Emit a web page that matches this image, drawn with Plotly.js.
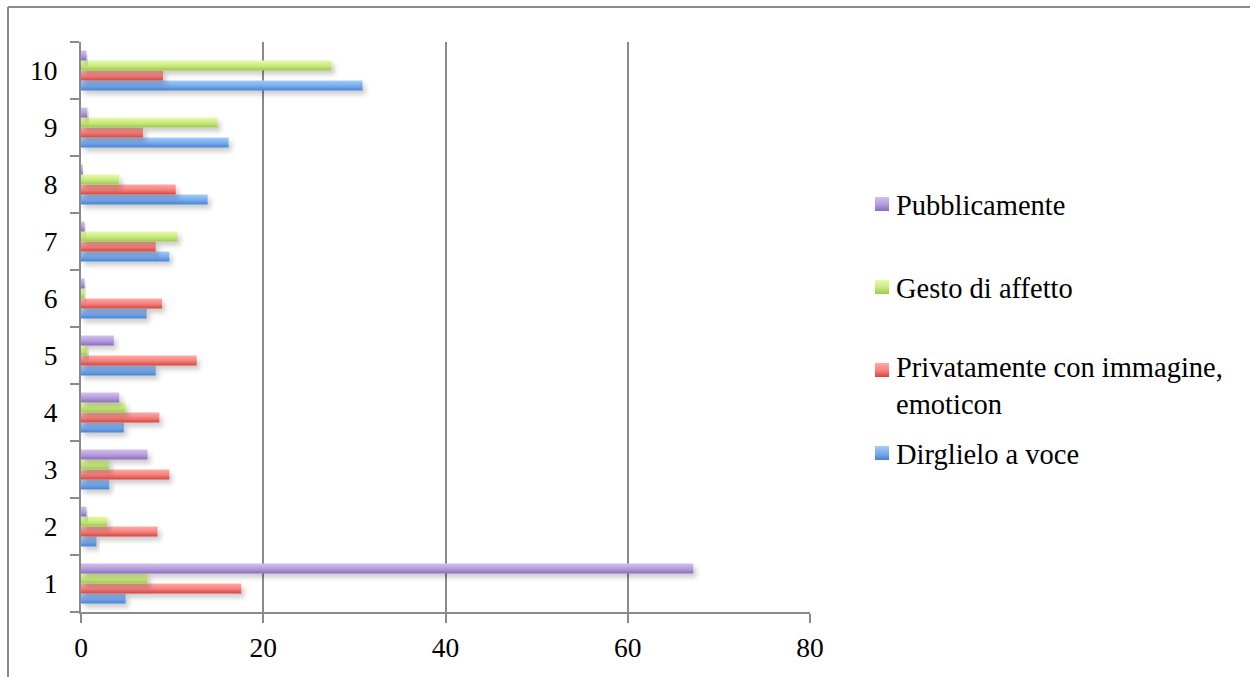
<!DOCTYPE html>
<html>
<head>
<meta charset="utf-8">
<script src="https://cdn.plot.ly/plotly-3.0.1.min.js"></script>
<style>
  html, body { margin: 0; padding: 0; background: #ffffff; }
  #chart { width: 1250px; height: 677px; }
</style>
</head>
<body>
<div id="chart"></div>
<script>
// Ratings 1..10 and the share (%) of answers for each way of expressing it
const categories = ['1', '2', '3', '4', '5', '6', '7', '8', '9', '10'];
const dirglieloAVoce = [4.9, 1.7, 3.1, 4.7, 8.2, 7.2, 9.7, 13.9, 16.2, 30.9];
const privatamente = [17.6, 8.4, 9.7, 8.6, 12.7, 8.9, 8.2, 10.4, 6.8, 9.0];
const gestoDiAffetto = [7.3, 2.9, 3.1, 4.9, 0.7, 0.4, 10.6, 4.2, 15.0, 27.5];
const pubblicamente = [67.2, 0.6, 7.3, 4.2, 3.6, 0.4, 0.4, 0.2, 0.7, 0.6];

const seriesNames = ['Dirglielo a voce', 'Privatamente con immagine,<br>emoticon', 'Gesto di affetto', 'Pubblicamente'];
const seriesValues = [dirglieloAVoce, privatamente, gestoDiAffetto, pubblicamente];
const xTicks = [0, 20, 40, 60, 80];

// top / middle / bottom shades for each series
const shades = [
  ['#a6cbfa', '#78aaec', '#4683d2'],
  ['#ffaaa6', '#f5807b', '#d4443f'],
  ['#e6fbab', '#c8e97e', '#9fc94c'],
  ['#d4c0ee', '#b39bda', '#8a6cbb']
];

const FONT = 'Liberation Serif, Times New Roman, serif';
const GREY = '#8a8a8a';

const traces = seriesValues.map((vals, i) => ({
  type: 'bar',
  orientation: 'h',
  name: seriesNames[i],
  x: vals,
  y: categories,
  marker: { color: shades[i][1] },
  showlegend: false,
  hoverinfo: 'x+name'
}));

// Plot-area geometry in pixels
const W = 1250, H = 677;
const M = { l: 81, r: 440, t: 42, b: 65 };
const pw = W - M.l - M.r, ph = H - M.t - M.b;
const px = x => (x - M.l) / pw;
const py = y => (H - M.b - y) / ph;

const shapes = [
  { type: 'line', xref: 'paper', yref: 'paper', x0: px(8), x1: px(W + 5), y0: py(7), y1: py(7),
    line: { color: GREY, width: 2 } },
  { type: 'line', xref: 'paper', yref: 'paper', x0: px(8), x1: px(8), y0: py(7), y1: py(H + 5),
    line: { color: GREY, width: 2 } }
];
const annotations = [];

// Legend, top entry = last series
const legendRows = [
  { idx: 3, cy: 204, ty: 205 },
  { idx: 2, cy: 287, ty: 288 },
  { idx: 1, cy: 370, ty: 386 },
  { idx: 0, cy: 453, ty: 454 }
];
legendRows.forEach(r => {
  shapes.push({
    type: 'rect', xref: 'paper', yref: 'paper',
    x0: px(875), x1: px(889), y0: py(r.cy - 7), y1: py(r.cy + 7),
    fillcolor: shades[r.idx][1], line: { width: 0 }
  });
  annotations.push({
    xref: 'paper', yref: 'paper', x: px(894), y: py(r.ty),
    xanchor: 'left', yanchor: 'middle', align: 'left',
    text: seriesNames[r.idx], showarrow: false,
    font: { family: FONT, size: 28.5, color: '#000' }
  });
});

const layout = {
  width: W, height: H,
  margin: M,
  paper_bgcolor: '#ffffff',
  plot_bgcolor: '#ffffff',
  barmode: 'group',
  bargap: 0.3,
  bargroupgap: 0,
  showlegend: false,
  font: { family: FONT, size: 27, color: '#000' },
  xaxis: {
    range: [0, 80],
    tickvals: xTicks,
    ticktext: xTicks.map(String),
    showgrid: true, gridcolor: GREY, gridwidth: 2,
    zeroline: false,
    showline: true, linecolor: GREY, linewidth: 2,
    ticks: 'outside', ticklen: 9, tickwidth: 2, tickcolor: GREY,
    ticklabelstandoff: 1,
    tickfont: { family: FONT, size: 27.5, color: '#000' },
    fixedrange: true
  },
  yaxis: {
    type: 'category',
    categoryorder: 'array',
    categoryarray: categories,
    range: [-0.5, 9.5],
    tickson: 'boundaries',
    showgrid: false, zeroline: false,
    showline: true, linecolor: GREY, linewidth: 2,
    ticks: 'outside', ticklen: 9, tickwidth: 2, tickcolor: GREY,
    ticklabelstandoff: 16,
    tickfont: { family: FONT, size: 27.5, color: '#000' },
    fixedrange: true
  },
  shapes: shapes,
  annotations: annotations
};

const gd = document.getElementById('chart');
Plotly.newPlot(gd, traces, layout, { displayModeBar: false, staticPlot: true }).then(() => {
  // vertical shading and a soft shadow on the bars
  const svg = gd.querySelector('.main-svg');
  const NS = 'http://www.w3.org/2000/svg';
  let defs = svg.querySelector('defs');
  if (!defs) { defs = document.createElementNS(NS, 'defs'); svg.insertBefore(defs, svg.firstChild); }
  shades.forEach((s, i) => {
    const g = document.createElementNS(NS, 'linearGradient');
    g.setAttribute('id', 'shade' + i);
    g.setAttribute('x1', '0'); g.setAttribute('y1', '0');
    g.setAttribute('x2', '0'); g.setAttribute('y2', '1');
    [[0, s[0]], [0.55, s[1]], [1, s[2]]].forEach(([o, c]) => {
      const st = document.createElementNS(NS, 'stop');
      st.setAttribute('offset', o);
      st.setAttribute('stop-color', c);
      g.appendChild(st);
    });
    defs.appendChild(g);
  });
  const f = document.createElementNS(NS, 'filter');
  f.setAttribute('id', 'barShadow');
  f.setAttribute('x', '-10%'); f.setAttribute('y', '-50%');
  f.setAttribute('width', '130%'); f.setAttribute('height', '250%');
  const ds = document.createElementNS(NS, 'feDropShadow');
  ds.setAttribute('dx', '3'); ds.setAttribute('dy', '4');
  ds.setAttribute('stdDeviation', '2.5');
  ds.setAttribute('flood-color', '#000'); ds.setAttribute('flood-opacity', '0.2');
  f.appendChild(ds);
  defs.appendChild(f);

  gd.querySelectorAll('.barlayer .trace').forEach((t, i) => {
    t.querySelectorAll('path').forEach(p => {
      p.style.fill = 'url(#shade' + i + ')';
      p.style.filter = 'url(#barShadow)';
    });
  });
  const shapePaths = gd.querySelectorAll('.shapelayer path');
  legendRows.forEach((r, k) => {
    const p = shapePaths[2 + k];
    if (p) p.style.fill = 'url(#shade' + r.idx + ')';
  });
});
</script>
</body>
</html>
